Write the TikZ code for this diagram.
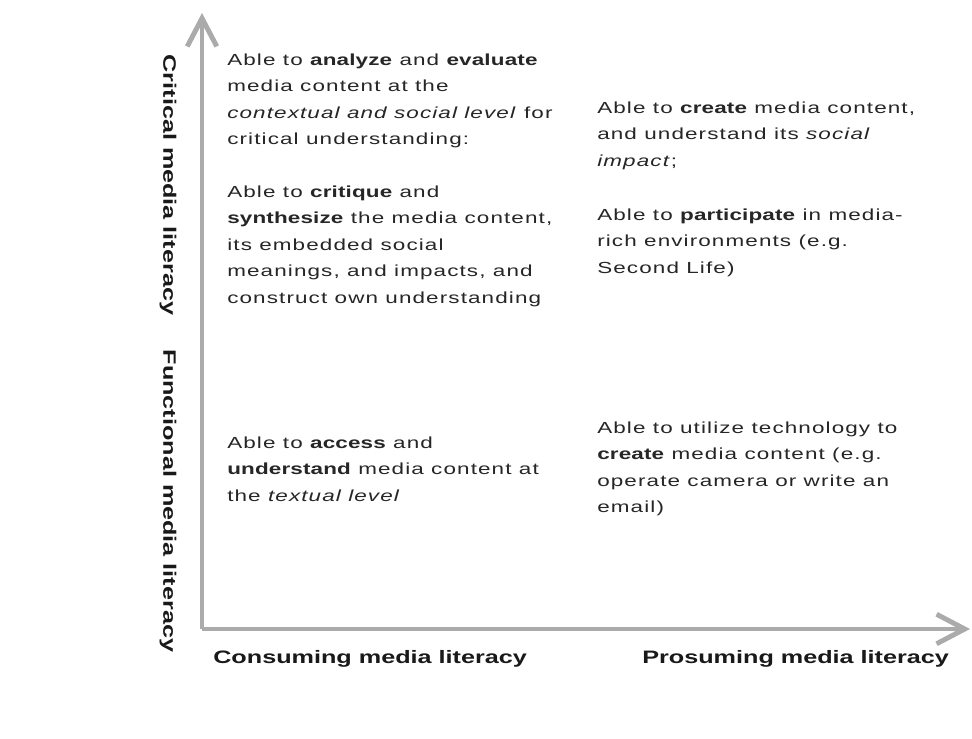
\documentclass[tikz,border=0pt]{standalone}
\usepackage{fontspec}
\setmainfont{Liberation Sans}[FakeStretch=1.4,LetterSpace=7]
\usetikzlibrary{arrows.meta}
\newcommand{\kw}[1]{{\bfseries\addfontfeature{LetterSpace=1}#1}}

\begin{document}
\begin{tikzpicture}[x=0.025cm,y=-0.025cm,
  axis/.style={line width=3.5pt,draw=black!33,-{Straight Barb[length=20pt,width=21pt]}},
  desc/.style={anchor=north west,inner sep=0pt,align=left,text=black!85,
    font=\fontsize{11.4}{18.85}\selectfont},
  axislabel/.style={inner sep=0pt,text=black!90,
    font=\fontsize{12.8}{15}\selectfont\bfseries\addfontfeature{LetterSpace=0}}]
\useasboundingbox[fill=white] (0,0) rectangle (972,738);

% axes
\coordinate (origin) at (202,629);
\coordinate (ytip) at (202,13);
\coordinate (xtip) at (970,629);
\draw[axis] (origin) -- (ytip);
\draw[axis] (origin) -- (xtip);

% left side labels
\node[axislabel,rotate=-90] (critical) at (168,185) {Critical media literacy};
\node[axislabel,rotate=-90] (functional) at (168,501) {Functional media literacy};

% bottom labels
\node[axislabel,anchor=base west] (consuming) at (213,663) {Consuming media literacy};
\node[axislabel,anchor=base west] (prosuming) at (642,663) {Prosuming media literacy};

% consuming side
\node[desc] (analyze) at (227,53.3) {Able to \kw{analyze} and \kw{evaluate}\\
media content at the\\
\textit{contextual and social level} for\\
critical understanding:};
\node[desc] (critique) at (227,185.3) {Able to \kw{critique} and\\
\kw{synthesize} the media content,\\
its embedded social\\
meanings, and impacts, and\\
construct own understanding};
\node[desc] (access) at (227,436.3) {Able to \kw{access} and\\
\kw{understand} media content at\\
the \textit{textual level}};

% prosuming side
\node[desc] (create) at (597,101.3) {Able to \kw{create} media content,\\
and understand its \textit{social}\\
\textit{impact};};
\node[desc] (participate) at (597,208.3) {Able to \kw{participate} in media-\\
rich environments (e.g.\\
Second Life)};
\node[desc] (utilize) at (597,421.3) {Able to utilize technology to\\
\kw{create} media content (e.g.\\
operate camera or write an\\
email)};
\end{tikzpicture}
\end{document}
